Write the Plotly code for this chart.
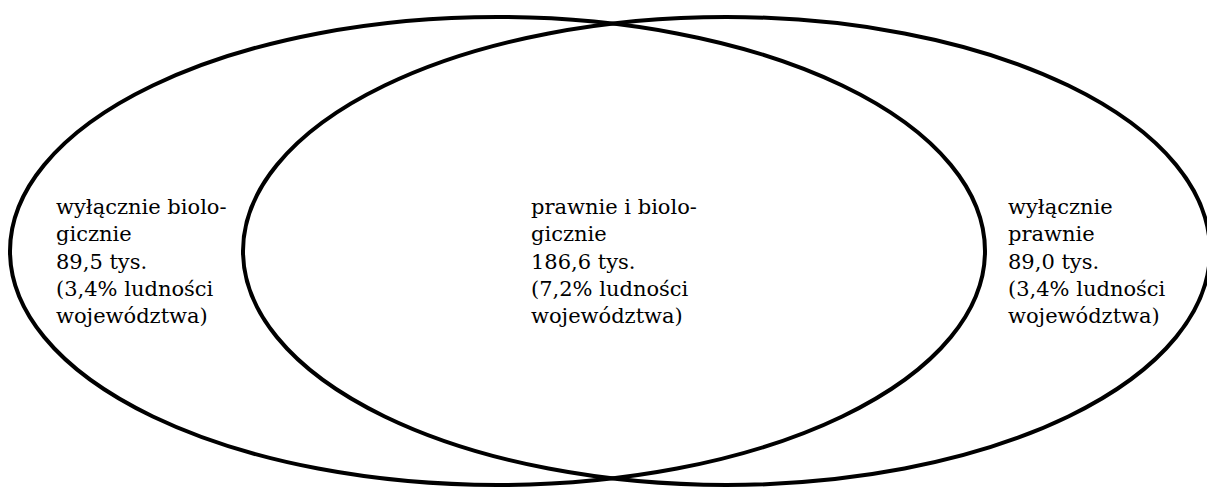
import plotly.graph_objects as go

# Data
region_labels = ["wyłącznie biolo-<br>gicznie", "prawnie i biolo-<br>gicznie", "wyłącznie<br>prawnie"]
counts_tys = ["89,5", "186,6", "89,0"]
shares_pct = ["3,4", "7,2", "3,4"]

W, H = 1207, 487
fig = go.Figure()

# Ellipses (pixel coordinates)
ellipses = [(10, 17, 985, 485), (243, 17, 1210, 485)]
for x0, y0, x1, y1 in ellipses:
    fig.add_shape(type="circle", xref="x", yref="y", x0=x0, y0=y0, x1=x1, y1=y1,
                  line=dict(color="black", width=4), fillcolor="rgba(0,0,0,0)")

FONT = "DejaVu Serif"
text_x = [54, 529, 1006]
text_y = 193
for lab, c, s, tx in zip(region_labels, counts_tys, shares_pct, text_x):
    txt = f"{lab}<br>{c} tys.<br>({s}% ludności<br>województwa)"
    fig.add_annotation(x=tx, y=text_y, xref="x", yref="y", text=txt, showarrow=False,
                       xanchor="left", yanchor="top", align="left",
                       font=dict(family=FONT, size=21, color="black"))

fig.update_xaxes(range=[0, W], visible=False, fixedrange=True)
fig.update_yaxes(range=[H, 0], visible=False, fixedrange=True)
fig.update_layout(width=W, height=H, margin=dict(l=0, r=0, t=0, b=0),
                  plot_bgcolor="white", paper_bgcolor="white", showlegend=False,
                  font=dict(family=FONT))
fig.write_html("out.html", config={"displayModeBar": False},
               post_script="document.body.style.margin='0px';document.body.style.overflow='hidden';")
